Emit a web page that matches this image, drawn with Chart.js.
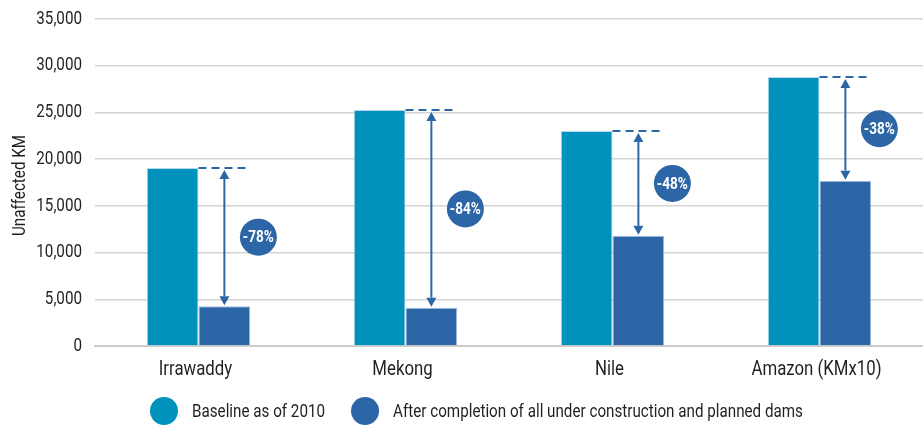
<!DOCTYPE html>
<html>
<head>
<meta charset="utf-8">
<script src="https://cdn.jsdelivr.net/npm/chart.js"></script>
<style>
  html, body { margin: 0; padding: 0; background: #fff; }
  #wrap { width: 923px; height: 426px; }
</style>
</head>
<body>
<div id="wrap"><canvas id="chart" width="923" height="426"></canvas></div>
<script>
// Values
const categories = ['Irrawaddy', 'Mekong', 'Nile', 'Amazon (KMx10)'];
const baseline2010 = [19050, 25250, 23000, 28800];
const afterDams = [4250, 4100, 11800, 17700];
const changeLabels = ['-78%', '-84%', '-48%', '-38%'];
const seriesNames = ['Baseline as of 2010', 'After completion of all under construction and planned dams'];
const yTitle = 'Unaffected KM';
const yMax = 35000;
const yStep = 5000;

const CYAN = '#0091bd';
const BLUE = '#2d66a6';
const TEXT = '#231f20';
const FONT = 'Roboto, "DejaVu Sans", sans-serif';
const SQUEEZE = 0.8; // the original type is a condensed face

// draw text squeezed horizontally around its anchor
function condensedText(ctx, str, x, y, align, angle) {
    ctx.save();
    ctx.translate(x, y);
    if (angle) ctx.rotate(angle);
    ctx.scale(SQUEEZE, 1);
    ctx.textAlign = align;
    ctx.fillText(str, 0, 0);
    ctx.restore();
}

// tick labels of both axes and the y title, placed by the scales
const axisLabels = {
    id: 'axisLabels',
    afterDraw(chart) {
        const ctx = chart.ctx;
        const ys = chart.scales.y;
        const xs = chart.scales.x;
        ctx.save();
        ctx.fillStyle = TEXT;
        ctx.textBaseline = 'middle';
        ctx.font = '19px ' + FONT;
        ys.ticks.forEach(function(t, i) {
            condensedText(ctx, t.value.toLocaleString('en-US'), 82, ys.getPixelForTick(i), 'right');
        });
        ctx.font = '21px ' + FONT;
        xs.ticks.forEach(function(t, i) {
            condensedText(ctx, categories[i], xs.getPixelForTick(i) - 3, 370, 'center');
        });
        ctx.font = '19px ' + FONT;
        condensedText(ctx, yTitle, 20, (ys.top + ys.bottom) / 2 + 3, 'center', -Math.PI / 2);
        ctx.restore();
    }
};

// dashed reference line, double arrow and % bubble over each pair of bars
const dropPlugin = {
    id: 'dropArrows',
    afterDatasetsDraw(chart) {
        const ctx = chart.ctx;
        const base = chart.getDatasetMeta(0).data;
        const after = chart.getDatasetMeta(1).data;
        ctx.save();
        after.forEach(function(bar, i) {
            const topY = base[i].y;
            const lowY = bar.y;
            const half = bar.width / 2;
            ctx.strokeStyle = BLUE;
            ctx.fillStyle = BLUE;
            ctx.lineWidth = 2;

            ctx.setLineDash([8, 5]);
            ctx.beginPath();
            ctx.moveTo(bar.x - half, topY);
            ctx.lineTo(bar.x + half, topY);
            ctx.stroke();
            ctx.setLineDash([]);

            const y1 = topY + 2, y2 = lowY - 1, head = 9, hw = 5;
            ctx.beginPath();
            ctx.moveTo(bar.x, y1 + head);
            ctx.lineTo(bar.x, y2 - head);
            ctx.stroke();
            ctx.beginPath();
            ctx.moveTo(bar.x, y1);
            ctx.lineTo(bar.x - hw, y1 + head);
            ctx.lineTo(bar.x + hw, y1 + head);
            ctx.closePath();
            ctx.fill();
            ctx.beginPath();
            ctx.moveTo(bar.x, y2);
            ctx.lineTo(bar.x - hw, y2 - head);
            ctx.lineTo(bar.x + hw, y2 - head);
            ctx.closePath();
            ctx.fill();

            const cx = bar.x + 34;
            const cy = (topY + lowY) / 2;
            ctx.beginPath();
            ctx.arc(cx, cy, 18.5, 0, Math.PI * 2);
            ctx.fill();
            ctx.fillStyle = '#ffffff';
            ctx.font = 'bold 17px ' + FONT;
            ctx.textBaseline = 'middle';
            condensedText(ctx, changeLabels[i], cx, cy + 1, 'center');
        });
        ctx.restore();
    }
};

// legend drawn left-aligned under the axis labels
const legendPlugin = {
    id: 'leftLegend',
    afterDraw(chart) {
        const ctx = chart.ctx;
        const colors = [CYAN, BLUE];
        let x = 150;
        const y = 411;
        ctx.save();
        ctx.font = '19px ' + FONT;
        ctx.textBaseline = 'middle';
        seriesNames.forEach(function(name, i) {
            ctx.fillStyle = colors[i];
            ctx.beginPath();
            ctx.arc(x + 14, y, 14, 0, Math.PI * 2);
            ctx.fill();
            ctx.fillStyle = TEXT;
            condensedText(ctx, name, x + 42, y + 1, 'left');
            x += 42 + ctx.measureText(name).width * SQUEEZE + 26;
        });
        ctx.restore();
    }
};

const ctx = document.getElementById('chart').getContext('2d');
const chart = new Chart(ctx, {
    type: 'bar',
    data: {
        labels: categories,
        datasets: [{
            label: seriesNames[0],
            data: baseline2010,
            backgroundColor: CYAN,
            borderColor: 'rgba(150, 200, 225, 0.7)',
            borderWidth: 1,
            categoryPercentage: 0.5,
            barPercentage: 1.0
        }, {
            label: seriesNames[1],
            data: afterDams,
            backgroundColor: BLUE,
            borderColor: 'rgba(140, 170, 215, 0.7)',
            borderWidth: 1,
            categoryPercentage: 0.5,
            barPercentage: 1.0
        }]
    },
    options: {
        responsive: false,
        animation: false,
        layout: {
            padding: { top: 19, right: 0, bottom: 50, left: 0 }
        },
        scales: {
            x: {
                grid: { display: false, drawTicks: false },
                border: { display: true, color: '#cccccc', width: 2 },
                ticks: { display: false },
                afterFit: function(scale) { scale.height = 30; }
            },
            y: {
                min: 0,
                max: yMax,
                grid: { color: '#d4d4d4', lineWidth: 1.5, drawTicks: false },
                border: { display: false },
                ticks: { display: false, stepSize: yStep },
                afterFit: function(scale) { scale.width = 95; }
            }
        },
        plugins: {
            legend: { display: false },
            tooltip: { enabled: false }
        }
    },
    plugins: [dropPlugin, axisLabels, legendPlugin]
});
</script>
</body>
</html>
